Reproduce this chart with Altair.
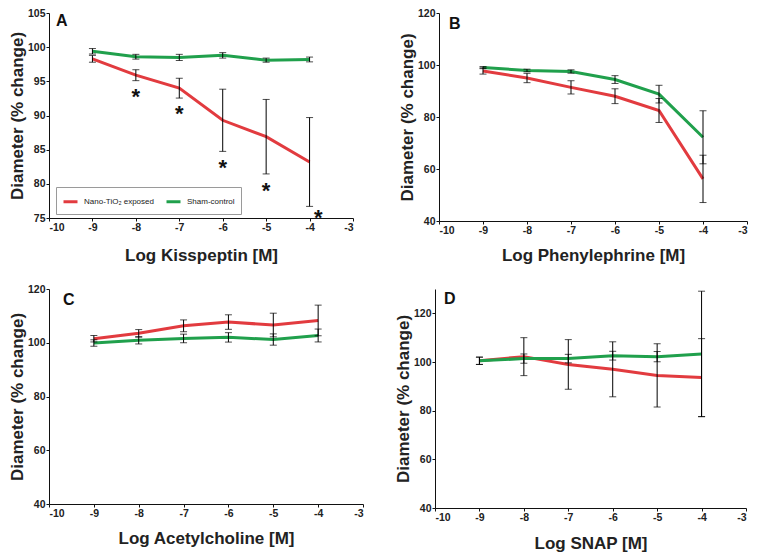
import altair as alt
import pandas as pd

FONT = "Liberation Sans"

conc = [-9, -8, -7, -6, -5, -4]
groups = ["Nano-TiO₂ exposed", "Sham-control"]
colors = ["#e23b3f", "#20a04c"]
x_ticks = [-10, -9, -8, -7, -6, -5, -4, -3]

# Panel A - Kisspeptin
nano_A = [98.3, 95.9, 94.0, 89.3, 86.9, 83.2]
nano_A_err = [0.5, 0.8, 1.45, 4.55, 5.45, 6.5]
sham_A = [99.4, 98.6, 98.5, 98.8, 98.1, 98.2]
sham_A_err = [0.4, 0.35, 0.45, 0.4, 0.3, 0.35]
star_x = [-8, -7, -6, -5, -3.8]
star_y = [93.45, 90.9, 83.1, 79.7, 75.7]

# Panel B - Phenylephrine
nano_B = [97.7, 95.0, 91.4, 88.0, 82.5, 56.2]
nano_B_err = [1.2, 1.8, 2.55, 2.85, 4.6, 9.1]
sham_B = [99.0, 97.9, 97.5, 94.4, 88.8, 72.2]
sham_B_err = [0.4, 0.5, 0.65, 1.5, 3.4, 10.2]

# Panel C - Acetylcholine
nano_C = [101.5, 103.5, 106.3, 107.7, 106.6, 108.3]
nano_C_err = [1.2, 1.4, 2.2, 2.7, 4.4, 5.7]
sham_C = [99.9, 100.9, 101.6, 102.0, 101.2, 102.7]
sham_C_err = [1.2, 1.35, 1.6, 1.75, 2.1, 2.4]

# Panel D - SNAP
nano_D = [100.5, 102.2, 99.0, 97.0, 94.5, 93.6]
nano_D_err = [1.5, 7.8, 10.2, 11.3, 13.0, 16.0]
sham_D = [100.5, 101.4, 101.4, 102.6, 102.2, 103.3]
sham_D_err = [1.5, 1.9, 1.75, 1.8, 2.1, 25.8]


def make_df(nano, nano_err, sham, sham_err):
    rows = []
    for g, vals, errs in ((groups[0], nano, nano_err), (groups[1], sham, sham_err)):
        for c, m, e in zip(conc, vals, errs):
            rows.append({"conc": c, "value": m, "lo": m - e, "hi": m + e, "group": g})
    return pd.DataFrame(rows)


def panel(df, ydomain, yticks, xtitle, letter, lx, ly, w, h, xpad,
          legend=None, stars=None):
    xscale = alt.Scale(domain=[-10, -3], nice=False, zero=False)
    yscale = alt.Scale(domain=ydomain, nice=False, zero=False)
    xaxis = alt.Axis(values=x_ticks, title=xtitle, titlePadding=xpad,
                     labelExpr="'' + datum.value")
    yaxis = alt.Axis(values=yticks, title="Diameter (% change)", titlePadding=1)

    def X(f):
        return alt.X(f, type="quantitative", scale=xscale, axis=xaxis)

    def Y(f):
        return alt.Y(f, type="quantitative", scale=yscale, axis=yaxis)

    color = alt.Color("group:N", scale=alt.Scale(domain=groups, range=colors),
                      legend=legend)
    lines = alt.Chart(df).mark_line(strokeWidth=3).encode(
        x=X("conc"), y=Y("value"), color=color)
    errs = alt.Chart(df).mark_errorbar(
        ticks={"size": 7, "thickness": 1}, color="black", thickness=1
    ).encode(x=X("conc"), y=Y("lo"), y2="hi:Q")
    lab = alt.Chart(pd.DataFrame({"t": [letter]})).mark_text(
        font=FONT, fontSize=16, fontWeight="bold", align="left",
        baseline="alphabetic", color="#111"
    ).encode(text="t:N", x=alt.value(lx), y=alt.value(ly))
    layers = [lines, errs, lab]
    if stars is not None:
        sdf = pd.DataFrame({"sx": stars[0], "sy": stars[1]})
        st = alt.Chart(sdf).mark_text(
            text="*", font=FONT, fontSize=22, fontWeight="bold",
            baseline="alphabetic", dy=12, color="#111"
        ).encode(x=X("sx"), y=Y("sy"))
        layers.append(st)
    return alt.layer(*layers).properties(width=w, height=h)


legA = alt.Legend(orient="none", legendX=7, legendY=174, direction="horizontal",
                  title=None, symbolType="stroke", symbolStrokeWidth=3,
                  symbolSize=196, labelFontSize=8, labelFont=FONT,
                  labelColor="#222", strokeColor="#9a9a9a", fillColor="white",
                  padding=6, columnPadding=6, labelOffset=5)

A = panel(make_df(nano_A, nano_A_err, sham_A, sham_A_err), [75, 105],
          [75, 80, 85, 90, 95, 100, 105], "Log Kisspeptin [M]", "A", 7, 13,
          304, 205, 15, legend=legA, stars=(star_x, star_y))
B = panel(make_df(nano_B, nano_B_err, sham_B, sham_B_err), [40, 120],
          [40, 60, 80, 100, 120], "Log Phenylephrine [M]", "B", 10, 16,
          308, 208, 12)
C = panel(make_df(nano_C, nano_C_err, sham_C, sham_C_err), [40, 120],
          [40, 60, 80, 100, 120], "Log Acetylcholine [M]", "C", 14, 16,
          314, 215, 12)
D = panel(make_df(nano_D, nano_D_err, sham_D, sham_D_err), [40, 130],
          [40, 60, 80, 100, 120], "Log SNAP [M]", "D", 9, 15,
          311, 219, 13)

row1 = alt.hconcat(A, B, spacing=44).resolve_scale(color="independent").resolve_legend(color="independent")
row2 = alt.hconcat(C, D, spacing=30).resolve_scale(color="independent").resolve_legend(color="independent")
chart = alt.vconcat(row1, row2, spacing=20).resolve_scale(
    color="independent").resolve_legend(color="independent").properties(
    padding=0, background="white"
).configure_view(stroke=None).configure_axis(
    grid=False, domainColor="#111", tickColor="#111", domainWidth=1,
    tickWidth=1, tickSize=3, labelPadding=1, labelFont=FONT,
    labelFontWeight="bold", labelFontSize=10.5, labelColor="#222",
    titleFont=FONT, titleFontSize=17, titleFontWeight="bold", titleColor="#222"
)

chart.save("out.html", embed_options={"renderer": "svg", "actions": False})
